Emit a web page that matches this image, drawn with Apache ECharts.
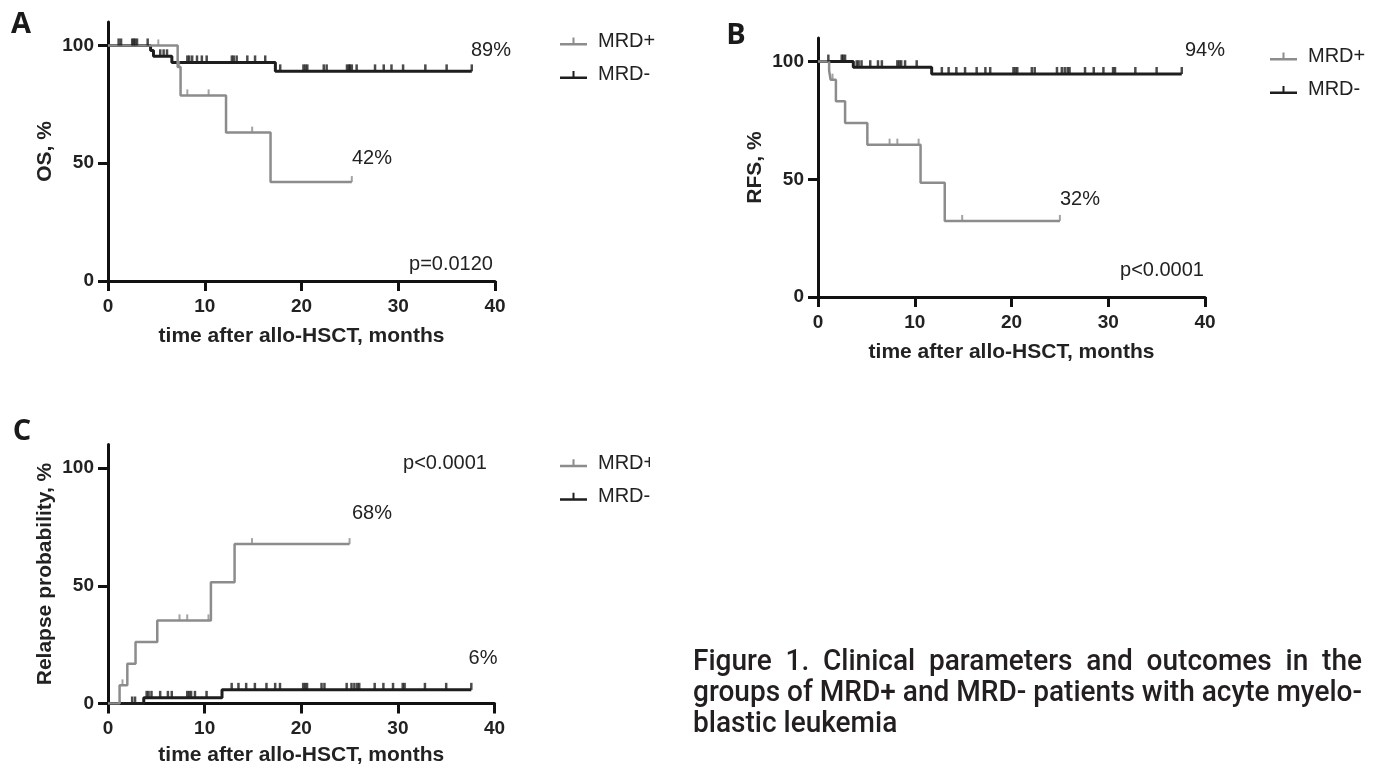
<!DOCTYPE html>
<html><head><meta charset="utf-8">
<script src="https://cdn.jsdelivr.net/npm/echarts@6/dist/echarts.min.js"></script>
<style>html,body{margin:0;padding:0;background:#fff}#c{width:1379px;height:771px}</style>
</head><body><div id="c"></div>
<script>
// ---------- data ----------
const xTicks = [0, 10, 20, 30, 40];
const yTicks = [0, 50, 100];
const groups = ['MRD+', 'MRD-'];

// Panel A: overall survival (time, %)
const osPos = [[0,100],[7.2,90.9],[7.5,78.8],[12.2,63.0],[16.8,42.0],[25.2,42.0]];
const osNeg = [[0,100],[4.4,97.9],[4.7,95.4],[6.6,92.8],[17.3,89.0],[37.6,89.0]];
const osPosCens = [5.2, 7.35, 8.2, 10.4, 14.9, 25.2];
const osNegCens = [1.1, 1.35, 2.5, 2.65, 2.8, 3.0, 4.1, 5.4, 5.75, 6.1, 8.2, 8.4, 8.7, 9.2, 9.7, 10.2, 12.8, 13.0, 13.3, 14.4, 15.2, 16.25,
  17.8, 20.2, 20.4, 20.6, 22.3, 22.6, 24.7, 24.9, 25.0, 25.2, 25.7, 27.6, 28.5, 29.3, 30.5, 32.8, 35.0, 37.6];

// Panel B: relapse-free survival
const rfsPos = [[0,100],[1.15,96.2],[1.3,92.3],[1.85,83.1],[2.8,73.9],[5.1,64.7],[10.6,48.5],[13.1,32.3],[25.0,32.3]];
const rfsNeg = [[0,100],[3.65,97.6],[11.75,94.7],[37.6,94.7]];
const rfsPosCens = [1.5, 7.4, 8.2, 10.4, 14.9, 25.0];
const rfsNegCens = [1.07, 2.45, 2.6, 2.8, 4.0, 4.2, 4.5, 5.4, 6.2, 6.6, 8.2, 8.4, 8.6, 9.0, 10.2,
  12.8, 13.5, 14.3, 15.2, 16.4, 17.3, 17.8, 20.2, 20.4, 20.6, 22.1, 22.4, 24.7, 25.2, 25.5, 25.8, 26.0, 27.6, 28.5, 29.5, 30.5, 30.7, 32.8, 35.0, 37.6];

// Panel C: relapse probability
const relPos = [[0,0],[1.2,7.7],[2.0,16.9],[2.85,26.1],[5.1,35.3],[10.65,51.5],[13.1,67.7],[25.0,67.7]];
const relNeg = [[0,0],[3.7,2.4],[11.8,5.8],[37.6,5.8]];
const relPosCens = [1.5, 7.4, 8.2, 10.4, 14.9, 25.0];
const relNegCens = [2.5, 2.8, 4.0, 4.2, 4.5, 5.4, 6.2, 6.6, 8.2, 8.4, 8.6, 9.0, 10.2,
  12.8, 13.5, 14.3, 15.2, 16.4, 17.3, 17.8, 20.2, 20.4, 20.6, 22.1, 22.4, 24.7, 25.2, 25.5, 25.8, 26.0, 27.6, 28.5, 29.5, 30.5, 30.7, 32.8, 35.0, 37.6];

const panelLabels = ['A', 'B', 'C'];
const yTitles = ['OS, %', 'RFS, %', 'Relapse probability, %'];
const xTitle = 'time after allo-HSCT, months';
const notesA = ['89%', '42%', 'p=0.0120'];
const notesB = ['94%', '32%', 'p<0.0001'];
const notesC = ['p<0.0001', '68%', '6%'];
const captionLines = [
  'Figure 1. Clinical parameters and outcomes in the',
  'groups of MRD+ and MRD- patients with acyte myelo-',
  'blastic leukemia'
];

// ---------- helpers ----------
const GRAY = '#8c8c8c', BLACK = '#1e1e1e', AXIS = '#111', TXT = '#222';
const SANS = '"Liberation Sans", Arial, sans-serif';

function levelAt(steps, t) {
  let v = steps[0][1];
  for (const s of steps) { if (s[0] <= t) v = s[1]; }
  return v;
}
function censorData(steps, times) { return times.map(t => [t, levelAt(steps, t)]); }

const legendIcon = 'path://M0,5.5 L12.5,5.5 L12.5,0 L14.5,0 L14.5,5.5 L27,5.5 L27,8 L0,8 Z';

const grids = [
  { left: 108, top: 21.9, width: 387, height: 259.1 },
  { left: 818, top: 38, width: 387, height: 259 },
  { left: 108, top: 444.5, width: 386.5, height: 259 }
];
const xNameGaps = [45, 45, 41];

function xAx(i) {
  return {
    type: 'value', gridIndex: i, min: 0, max: 40, interval: 10,
    name: xTitle, nameLocation: 'middle', nameGap: xNameGaps[i],
    nameTextStyle: { fontFamily: SANS, fontWeight: 'bold', fontSize: 21, color: TXT },
    axisLine: { show: true, onZero: false, lineStyle: { color: AXIS, width: 3 } },
    axisTick: { show: true, length: 10, lineStyle: { color: AXIS, width: 3 } },
    axisLabel: { margin: 16, fontFamily: SANS, fontWeight: 'bold', fontSize: 19, color: TXT },
    splitLine: { show: false }
  };
}
function yAx(i) {
  return {
    type: 'value', gridIndex: i, min: 0, max: 110, interval: 50,
    name: yTitles[i], nameLocation: 'middle', nameGap: 52,
    nameTextStyle: { fontFamily: SANS, fontWeight: 'bold', fontSize: 21, color: TXT },
    axisLine: { show: true, onZero: false, lineStyle: { color: AXIS, width: 3 } },
    axisTick: { show: true, length: 10, customValues: yTicks, lineStyle: { color: AXIS, width: 3 } },
    axisLabel: { margin: 14, customValues: yTicks, fontFamily: SANS, fontWeight: 'bold', fontSize: 19, color: TXT },
    splitLine: { show: false }
  };
}
function curve(name, i, data, color, w, z) {
  return { name, type: 'line', xAxisIndex: i, yAxisIndex: i, data, step: 'end', symbol: 'none',
    lineStyle: { color, width: w }, itemStyle: { color }, z, silent: true, animation: false };
}
function censors(name, i, data, color, size, z) {
  return { name, type: 'scatter', xAxisIndex: i, yAxisIndex: i, data, symbol: 'rect',
    symbolSize: size, symbolOffset: [0, -size[1] / 2], itemStyle: { color }, z, silent: true, animation: false };
}
function legend(left, top) {
  return {
    left, top, orient: 'vertical', itemWidth: 27, itemHeight: 8, itemGap: 7.9,
    data: [{ name: 'MRD+', icon: legendIcon, itemStyle: { color: GRAY } },
           { name: 'MRD-', icon: legendIcon, itemStyle: { color: BLACK } }],
    textStyle: { fontFamily: SANS, fontSize: 20, color: TXT, lineHeight: 20, padding: [5.5, 0, 0, 6] },
    selectedMode: false
  };
}
function note(x, y, t) {
  return { type: 'text', x, y, z: 50, style: { text: t, fill: TXT, fontFamily: SANS, fontSize: 20, align: 'center', verticalAlign: 'middle' } };
}
function panelLabel(x, y, t) {
  return { type: 'text', x, y, z: 50, style: { text: t, fill: '#1a1a1a', fontFamily: '"Open Sans", sans-serif', fontWeight: 'bold', fontSize: 29, align: 'center', verticalAlign: 'middle' } };
}

// caption layout (justified like the source, condensed by horizontal scaling)
function captionGraphics() {
  const font = '500 29px Roboto';
  const ctx = document.createElement('canvas').getContext('2d');
  ctx.font = font;
  const left = 693, right = 1362, ys = [663, 694, 725];
  const s = (right - left) / ctx.measureText(captionLines[1]).width;
  const sp = ctx.measureText(' ').width * s;
  const out = [];
  captionLines.forEach((line, li) => {
    const words = line.split(' ');
    const ws = words.map(w => ctx.measureText(w).width * s);
    const total = ws.reduce((a, b) => a + b, 0);
    const gap = li === 0 ? (right - left - total) / (words.length - 1) : sp;
    let x = left;
    words.forEach((w, k) => {
      out.push({ type: 'text', x, y: ys[li], scaleX: s, z: 50,
        style: { text: w, fill: '#231f20', font, align: 'left', verticalAlign: 'middle' } });
      x += ws[k] + gap;
    });
  });
  return out;
}

// ---------- chart ----------
const chart = echarts.init(document.getElementById('c'), null, { renderer: 'canvas' });
const option = {
  backgroundColor: '#fff',
  animation: false,
  grid: grids.map(g => Object.assign({ containLabel: false, outerBoundsMode: 'none' }, g)),
  xAxis: [xAx(0), xAx(1), xAx(2)],
  yAxis: [yAx(0), yAx(1), yAx(2)],
  legend: [legend(555, 23.8), legend(1265, 38.8), legend(555, 445.5)],
  series: [
    curve('MRD-', 0, osNeg, BLACK, 3, 3),
    curve('MRD+', 0, osPos, GRAY, 2.5, 4),
    censors('MRD-', 0, censorData(osNeg, osNegCens), BLACK, [2.5, 7], 5),
    censors('MRD+', 0, censorData(osPos, osPosCens), GRAY, [2, 6], 5),

    curve('MRD-', 1, rfsNeg, BLACK, 3, 3),
    curve('MRD+', 1, rfsPos, GRAY, 2.5, 4),
    censors('MRD-', 1, censorData(rfsNeg, rfsNegCens), BLACK, [2.5, 7], 5),
    censors('MRD+', 1, censorData(rfsPos, rfsPosCens), GRAY, [2, 6], 5),

    curve('MRD-', 2, relNeg, BLACK, 3, 3),
    curve('MRD+', 2, relPos, GRAY, 2.5, 4),
    censors('MRD-', 2, censorData(relNeg, relNegCens), BLACK, [2.5, 7], 5),
    censors('MRD+', 2, censorData(relPos, relPosCens), GRAY, [2, 6], 5)
  ],
  graphic: [
    panelLabel(21, 25, panelLabels[0]),
    panelLabel(736, 36, panelLabels[1]),
    panelLabel(22, 432, panelLabels[2]),
    note(491, 50, notesA[0]), note(372, 158, notesA[1]), note(451, 264, notesA[2]),
    note(1205, 50, notesB[0]), note(1080, 199, notesB[1]), note(1162, 270, notesB[2]),
    note(445, 463, notesC[0]), note(372, 513, notesC[1]), note(483, 658, notesC[2]),
    { type: 'rect', z: 100, shape: { x: 650, y: 447, width: 40, height: 64 }, style: { fill: '#fff' } }
  ].concat(captionGraphics())
};
chart.setOption(option);
</script>
</body></html>
